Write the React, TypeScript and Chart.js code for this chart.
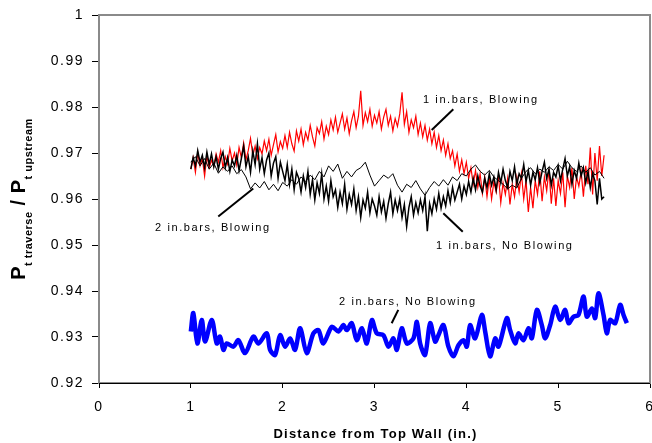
import React, { useEffect, useRef } from "react";
import { Chart, registerables } from "chart.js";

Chart.register(...registerables);

const FONT = "'Liberation Sans', Arial, sans-serif";

const X_MIN = 0;
const X_MAX = 6;
const Y_MIN = 0.92;
const Y_MAX = 1.0;

// 1 in. bars, Blowing (red) — x from 1.0 step 0.025
const RED_X0 = 1.0;
const RED_DX = 0.025;
const RED = [
  0.9665, 0.9690, 0.9658, 0.9701, 0.9672, 0.9688, 0.9650, 0.9695, 0.9668, 0.9684,
  0.9672, 0.9698, 0.9680, 0.9705, 0.9668, 0.9692, 0.9676, 0.9710, 0.9683, 0.9700,
  0.9674, 0.9712, 0.9690, 0.9722, 0.9685, 0.9705, 0.9732, 0.9694, 0.9715, 0.9688,
  0.9712, 0.9698, 0.9726, 0.9705, 0.9730, 0.9695, 0.9718, 0.9740, 0.9702, 0.9725,
  0.9710, 0.9738, 0.9712, 0.9745, 0.9720, 0.9704, 0.9748, 0.9726, 0.9752, 0.9718,
  0.9745, 0.9728, 0.9760, 0.9735, 0.9715, 0.9755, 0.9742, 0.9768, 0.9730, 0.9758,
  0.9740, 0.9772, 0.9750, 0.9778, 0.9745, 0.9765, 0.9785, 0.9752, 0.9776, 0.9742,
  0.9770, 0.9790, 0.9755, 0.9780, 0.9835, 0.9760, 0.9788, 0.9768, 0.9795, 0.9758,
  0.9782, 0.9765, 0.9790, 0.9752, 0.9778, 0.9795, 0.9760, 0.9780, 0.9748, 0.9775,
  0.9758, 0.9785, 0.9832, 0.9762, 0.9790, 0.9745, 0.9772, 0.9755, 0.9780, 0.9740,
  0.9765, 0.9735, 0.9760, 0.9728, 0.9752, 0.9720, 0.9745, 0.9712, 0.9738, 0.9705,
  0.9728, 0.9695, 0.9720, 0.9688, 0.9705, 0.9672, 0.9698, 0.9660, 0.9685, 0.9655,
  0.9680, 0.9645, 0.9668, 0.9632, 0.9662, 0.9625, 0.9655, 0.9612, 0.9648, 0.9605,
  0.9645, 0.9600, 0.9638, 0.9615, 0.9650, 0.9592, 0.9635, 0.9610, 0.9645, 0.9588,
  0.9632, 0.9605, 0.9648, 0.9615, 0.9655, 0.9600, 0.9640, 0.9572, 0.9625, 0.9580,
  0.9640, 0.9610, 0.9660, 0.9595, 0.9648, 0.9618, 0.9665, 0.9590, 0.9645, 0.9585,
  0.9640, 0.9612, 0.9658, 0.9582, 0.9650, 0.9625, 0.9668, 0.9600, 0.9648, 0.9628,
  0.9660, 0.9605, 0.9672, 0.9632, 0.9712, 0.9610, 0.9700, 0.9640, 0.9715, 0.9650,
  0.9695,
];

// 1 in. bars, No Blowing (bold black) — x from 1.0 step 0.025
const BLACK_X0 = 1.0;
const BLACK_DX = 0.025;
const BLACK = [
  0.9665, 0.9690, 0.9672, 0.9705, 0.9680, 0.9695, 0.9668, 0.9702, 0.9675, 0.9698,
  0.9670, 0.9692, 0.9665, 0.9688, 0.9702, 0.9668, 0.9690, 0.9660, 0.9685, 0.9672,
  0.9695, 0.9662, 0.9688, 0.9715, 0.9670, 0.9692, 0.9658, 0.9705, 0.9675, 0.9720,
  0.9665, 0.9690, 0.9655, 0.9685, 0.9700, 0.9650, 0.9678, 0.9692, 0.9645, 0.9680,
  0.9660, 0.9640, 0.9675, 0.9632, 0.9665, 0.9620, 0.9658, 0.9645, 0.9615, 0.9650,
  0.9625, 0.9660, 0.9610, 0.9642, 0.9598, 0.9635, 0.9612, 0.9655, 0.9600, 0.9628,
  0.9595, 0.9640, 0.9605, 0.9620, 0.9582, 0.9615, 0.9590, 0.9632, 0.9578, 0.9610,
  0.9588, 0.9622, 0.9575, 0.9605, 0.9560, 0.9598, 0.9580, 0.9615, 0.9570, 0.9600,
  0.9585, 0.9565, 0.9605, 0.9572, 0.9595, 0.9558, 0.9590, 0.9615, 0.9568, 0.9598,
  0.9575, 0.9600, 0.9560, 0.9588, 0.9540, 0.9582, 0.9605, 0.9565, 0.9592, 0.9570,
  0.9598, 0.9575, 0.9605, 0.9530, 0.9590, 0.9568, 0.9600, 0.9578, 0.9612, 0.9580,
  0.9605, 0.9585, 0.9618, 0.9592, 0.9625, 0.9598, 0.9615, 0.9632, 0.9600, 0.9628,
  0.9610, 0.9638, 0.9615, 0.9645, 0.9620, 0.9650, 0.9628, 0.9615, 0.9645, 0.9625,
  0.9655, 0.9630, 0.9648, 0.9620, 0.9658, 0.9635, 0.9665, 0.9640, 0.9625, 0.9660,
  0.9640, 0.9670, 0.9632, 0.9655, 0.9645, 0.9675, 0.9638, 0.9662, 0.9630, 0.9658,
  0.9642, 0.9668, 0.9635, 0.9660, 0.9680, 0.9645, 0.9665, 0.9630, 0.9658, 0.9648,
  0.9672, 0.9640, 0.9665, 0.9688, 0.9650, 0.9670, 0.9632, 0.9662, 0.9645, 0.9678,
  0.9650, 0.9668, 0.9635, 0.9660, 0.9625, 0.9655, 0.9640, 0.9588, 0.9645, 0.9600,
  0.9605,
];

// 2 in. bars, Blowing (thin black) — x from 1.0 step 0.05
const THIN_X0 = 1.0;
const THIN_DX = 0.05;
const THIN = [
  0.9680, 0.9692, 0.9672, 0.9688, 0.9665, 0.9678, 0.9656, 0.9670, 0.9660, 0.9672,
  0.9655, 0.9664, 0.9648, 0.9622, 0.9635, 0.9624, 0.9638, 0.9620, 0.9632, 0.9618,
  0.9636, 0.9628, 0.9642, 0.9632, 0.9648, 0.9638, 0.9652, 0.9642, 0.9660, 0.9648,
  0.9672, 0.9660, 0.9676, 0.9645, 0.9660, 0.9648, 0.9662, 0.9668, 0.9680, 0.9652,
  0.9628, 0.9640, 0.9652, 0.9645, 0.9655, 0.9630, 0.9615, 0.9632, 0.9625, 0.9640,
  0.9622, 0.9608, 0.9625, 0.9638, 0.9628, 0.9642, 0.9630, 0.9648, 0.9640, 0.9655,
  0.9650, 0.9665, 0.9674, 0.9660, 0.9652, 0.9662, 0.9648, 0.9640, 0.9632, 0.9622,
  0.9630, 0.9624, 0.9645, 0.9660, 0.9668, 0.9655, 0.9665, 0.9658, 0.9670, 0.9662,
  0.9675, 0.9665, 0.9682, 0.9668, 0.9660, 0.9672, 0.9658, 0.9668, 0.9652, 0.9660,
  0.9645,
];

// 2 in. bars, No Blowing (blue)
const BLUE_X = [
  1.0, 1.027, 1.071, 1.119, 1.155, 1.228, 1.282, 1.318, 1.355, 1.391,
  1.463, 1.518, 1.590, 1.681, 1.736, 1.827, 1.863, 1.917, 1.972, 2.026,
  2.081, 2.135, 2.190, 2.262, 2.335, 2.389, 2.443, 2.535, 2.607, 2.661,
  2.698, 2.752, 2.807, 2.862, 2.916, 2.971, 3.025, 3.097, 3.152, 3.206,
  3.243, 3.297, 3.352, 3.424, 3.461, 3.497, 3.551, 3.606, 3.660, 3.696,
  3.751, 3.805, 3.860, 3.914, 3.969, 4.005, 4.041, 4.096, 4.169, 4.205,
  4.259, 4.314, 4.350, 4.441, 4.477, 4.532, 4.568, 4.622, 4.677, 4.713,
  4.768, 4.822, 4.858, 4.913, 4.967, 5.022, 5.076, 5.113, 5.167, 5.221,
  5.276, 5.312, 5.367, 5.403, 5.439, 5.494, 5.530, 5.566, 5.621, 5.675,
  5.712, 5.748,
];
const BLUE_Y = [
  0.9312, 0.9352, 0.9286, 0.9337, 0.9290, 0.9337, 0.9286, 0.9301, 0.9272, 0.9286,
  0.9279, 0.9293, 0.9265, 0.9301, 0.9286, 0.9308, 0.9272, 0.9261, 0.9304, 0.9279,
  0.9297, 0.9272, 0.9319, 0.9265, 0.9308, 0.9315, 0.9286, 0.9322, 0.9312, 0.9326,
  0.9315, 0.9330, 0.9293, 0.9319, 0.9286, 0.9337, 0.9308, 0.9304, 0.9279, 0.9297,
  0.9272, 0.9319, 0.9286, 0.9297, 0.9333, 0.9286, 0.9261, 0.9330, 0.9290, 0.9304,
  0.9326, 0.9279, 0.9258, 0.9282, 0.9293, 0.9279, 0.9326, 0.9297, 0.9348, 0.9312,
  0.9258, 0.9297, 0.9279, 0.9341, 0.9315, 0.9286, 0.9308, 0.9293, 0.9319, 0.9297,
  0.9359, 0.9326, 0.9297, 0.9326, 0.9366, 0.9337, 0.9359, 0.9330, 0.9344, 0.9348,
  0.9388, 0.9344, 0.9362, 0.9341, 0.9395, 0.9348, 0.9308, 0.9337, 0.9330, 0.9370,
  0.9348, 0.9330,
];

// Annotation texts and anchors (data units)
const NOTE_TEXT = ["1 in.bars, Blowing", "2 in.bars, Blowing", "1 in.bars, No Blowing", "2 in.bars, No Blowing"];
const NOTE_X = [3.528, 0.61, 3.67, 2.614];
const NOTE_Y = [0.9815, 0.9538, 0.9498, 0.9377];
const LEADER_X1 = [3.623, 1.299, 3.749, 3.187];
const LEADER_Y1 = [0.975, 0.9562, 0.9569, 0.933];
const LEADER_X2 = [3.858, 1.68, 3.961, 3.259];
const LEADER_Y2 = [0.9795, 0.9623, 0.9529, 0.9359];

const X_TITLE = "Distance from Top Wall (in.)";

function series(x0: number, dx: number, vals: number[]) {
  return vals.map((v, i) => ({ x: +(x0 + i * dx).toFixed(4), y: v }));
}

const decorPlugin = {
  id: "decor",
  beforeLayout(chart: any) {
    chart.ctx.letterSpacing = "1.5px";
  },
  beforeDraw(chart: any) {
    chart.ctx.letterSpacing = "1.5px";
  },
  afterDraw(chart: any) {
    const ctx = chart.ctx as CanvasRenderingContext2D;
    const { left, right, top, bottom } = chart.chartArea;
    const xs = chart.scales.x;
    const ys = chart.scales.y;
    ctx.save();
    // frame
    ctx.strokeStyle = "#8a8a8a";
    ctx.lineWidth = 2;
    ctx.strokeRect(left, top, right - left, bottom - top);
    ctx.strokeStyle = "#000";
    ctx.lineWidth = 1;
    ctx.beginPath();
    ctx.moveTo(left, bottom + 0.5);
    ctx.lineTo(right, bottom + 0.5);
    ctx.stroke();

    // annotations
    ctx.fillStyle = "#000";
    (ctx as any).letterSpacing = "1.6px";
    ctx.font = `11px ${FONT}`;
    ctx.textBaseline = "middle";
    ctx.textAlign = "left";
    for (let i = 0; i < NOTE_TEXT.length; i++) {
      ctx.fillText(NOTE_TEXT[i], xs.getPixelForValue(NOTE_X[i]), ys.getPixelForValue(NOTE_Y[i]));
      ctx.beginPath();
      ctx.lineWidth = 2;
      ctx.strokeStyle = "#000";
      ctx.moveTo(xs.getPixelForValue(LEADER_X1[i]), ys.getPixelForValue(LEADER_Y1[i]));
      ctx.lineTo(xs.getPixelForValue(LEADER_X2[i]), ys.getPixelForValue(LEADER_Y2[i]));
      ctx.stroke();
    }

    // x title
    (ctx as any).letterSpacing = "1.2px";
    ctx.font = `bold 13px ${FONT}`;
    ctx.textAlign = "center";
    ctx.textBaseline = "alphabetic";
    ctx.fillText(X_TITLE, (left + right) / 2 + 1, 438);

    // y title (rotated, with subscripts)
    (ctx as any).letterSpacing = "0.5px";
    const parts = [
      { t: "P", f: `bold 20px ${FONT}`, dy: 0 },
      { t: "t traverse", f: `bold 11px ${FONT}`, dy: 7 },
      { t: " / ", f: `bold 20px ${FONT}`, dy: 0 },
      { t: "P", f: `bold 20px ${FONT}`, dy: 0 },
      { t: "t upstream", f: `bold 11px ${FONT}`, dy: 7 },
    ];
    let total = 0;
    const widths = parts.map((p) => {
      ctx.font = p.f;
      const w = ctx.measureText(p.t).width;
      total += w;
      return w;
    });
    ctx.translate(25, (top + bottom) / 2);
    ctx.rotate(-Math.PI / 2);
    ctx.textAlign = "left";
    let cx = -total / 2;
    parts.forEach((p, i) => {
      ctx.font = p.f;
      ctx.fillText(p.t, cx, p.dy);
      cx += widths[i];
    });
    ctx.restore();
  },
};

export default function App() {
  const ref = useRef<HTMLCanvasElement | null>(null);
  useEffect(() => {
    if (!ref.current) return;
    const chart = new Chart(ref.current, {
      type: "line",
      data: {
        datasets: [
          {
            label: "1 in.bars, No Blowing",
            data: series(BLACK_X0, BLACK_DX, BLACK),
            borderColor: "#000000",
            borderWidth: 1.5,
            pointRadius: 0,
            tension: 0,
            order: 1,
          },
          {
            label: "2 in.bars, Blowing",
            data: series(THIN_X0, THIN_DX, THIN),
            borderColor: "#000000",
            borderWidth: 1,
            pointRadius: 0,
            tension: 0,
            order: 2,
          },
          {
            label: "1 in.bars, Blowing",
            data: series(RED_X0, RED_DX, RED),
            borderColor: "#ff0000",
            borderWidth: 1.2,
            pointRadius: 0,
            tension: 0,
            order: 3,
          },
          {
            label: "2 in.bars, No Blowing",
            data: BLUE_X.map((x, i) => ({ x, y: BLUE_Y[i] })),
            borderColor: "#0000ff",
            borderWidth: 4.5,
            pointRadius: 0,
            tension: 0.3,
            cubicInterpolationMode: "default",
            order: 4,
          },
        ],
      },
      options: {
        animation: false,
        responsive: false,
        maintainAspectRatio: false,
        layout: { padding: { left: 0, right: 2, top: 15, bottom: 0 } },
        plugins: { legend: { display: false }, tooltip: { enabled: false }, title: { display: false } },
        scales: {
          x: {
            type: "linear",
            min: X_MIN,
            max: X_MAX,
            border: { display: false },
            grid: { display: true, drawOnChartArea: false, drawTicks: true, tickLength: 5, color: "#000", lineWidth: 1 },
            ticks: { stepSize: 1, color: "#000", font: { family: FONT, size: 14 }, padding: 11, maxRotation: 0 },
            afterFit(scale: any) {
              scale.height = 60;
              scale.paddingLeft = 0;
              scale.paddingRight = 0;
            },
          },
          y: {
            type: "linear",
            min: Y_MIN,
            max: Y_MAX,
            border: { display: false },
            grid: { display: true, drawOnChartArea: false, drawTicks: true, tickLength: 7, color: "#000", lineWidth: 1 },
            ticks: {
              stepSize: 0.01,
              color: "#000",
              font: { family: FONT, size: 14 },
              padding: 8,
              callback: (v: any) => String(Number(Number(v).toFixed(2))),
            },
            afterFit(scale: any) {
              scale.width = 99;
              scale.paddingTop = 0;
              scale.paddingBottom = 0;
            },
          },
        },
      },
      plugins: [decorPlugin],
    } as any);
    return () => chart.destroy();
  }, []);
  return (
    <div style={{ position: "fixed", left: 0, top: 0, width: 652, height: 443, background: "#fff" }}>
      <canvas ref={ref} width={652} height={443} style={{ width: 652, height: 443, display: "block" }} />
    </div>
  );
}
